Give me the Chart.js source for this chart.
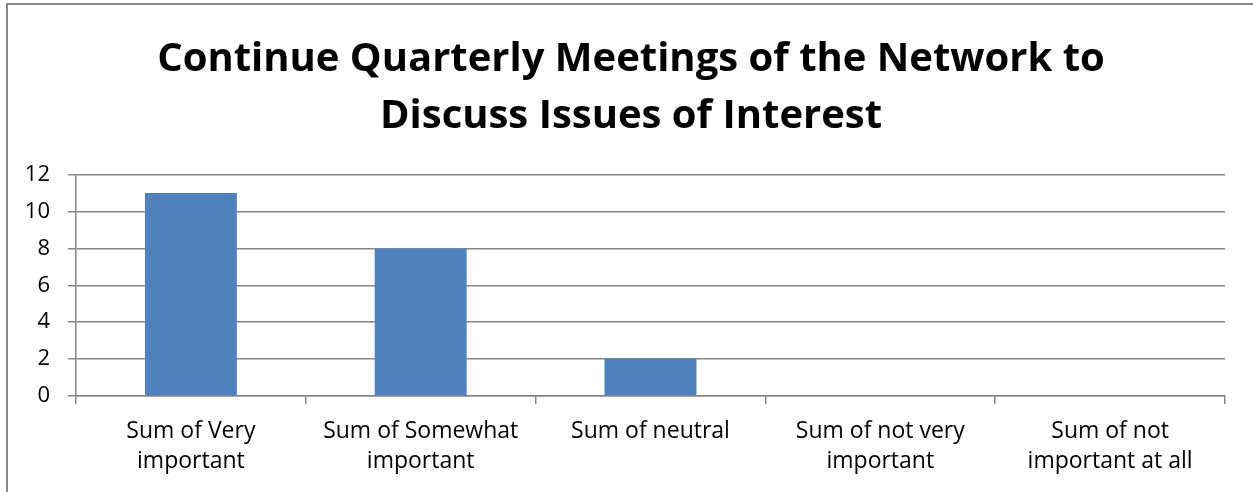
<!DOCTYPE html>
<html>
<head>
<meta charset="utf-8">
<script src="https://cdn.jsdelivr.net/npm/chart.js@4"></script>
<style>
  html, body { margin: 0; padding: 0; background: #fff; }
  #wrap { width: 1253px; height: 492px; }
</style>
</head>
<body>
<div id="wrap"><canvas id="myChart" width="1253" height="492"></canvas></div>
<script>
const titleLines = ["Continue Quarterly Meetings of the Network to", "Discuss Issues of Interest"];
const categories = [
  ["Sum of Very", "important"],
  ["Sum of Somewhat", "important"],
  ["Sum of neutral"],
  ["Sum of not very", "important"],
  ["Sum of not", "important at all"],
];
const counts = [11, 8, 2, 0, 0];

const gray = "#868686";
const font = "'Open Sans', Lato, sans-serif";

// outer frame like the spreadsheet chart border
const framePlugin = {
  id: "frame",
  beforeDraw(chart) {
    const ctx = chart.ctx;
    ctx.save();
    ctx.fillStyle = "#fff";
    ctx.fillRect(0, 0, chart.width, chart.height);
    ctx.strokeStyle = gray;
    ctx.lineWidth = 2;
    ctx.strokeRect(7, 4, 1300, 600);
    ctx.restore();
  },
};

const ctx = document.getElementById("myChart").getContext("2d");
new Chart(ctx, {
  type: "bar",
  data: {
    labels: categories,
    datasets: [
      {
        label: "Count",
        data: counts,
        backgroundColor: "#4F81BD",
        barPercentage: 0.4,
        categoryPercentage: 1,
      },
    ],
  },
  options: {
    responsive: false,
    animation: false,
    layout: { padding: { top: 0, right: 0, bottom: 0, left: 9 } },
    plugins: {
      legend: { display: false },
      tooltip: { enabled: false },
      title: {
        display: true,
        text: titleLines,
        color: "#000",
        font: { family: font, size: 40, weight: "bold", lineHeight: 1.42 },
        padding: { top: 31, bottom: 30 },
      },
    },
    scales: {
      x: {
        grid: {
          offset: true,
          drawOnChartArea: false,
          drawTicks: true,
          tickLength: 8,
          color: gray,
          lineWidth: 1.5,
        },
        border: { color: gray, width: 1.5 },
        ticks: {
          color: "#000",
          padding: 13,
          maxRotation: 0,
          autoSkip: false,
          font: { family: font, size: 23, lineHeight: 1.3 },
        },
        afterFit(scale) {
          scale.height = 96;
        },
      },
      y: {
        min: 0,
        max: 12,
        ticks: {
          stepSize: 2,
          color: "#000",
          padding: 18,
          font: { family: font, size: 22 },
        },
        grid: { color: gray, lineWidth: 1.5, tickLength: 8 },
        border: { color: gray, width: 1.5 },
        afterFit(scale) {
          scale.width = 67;
        },
      },
      // empty right-hand spacer so the plot ends where the original does
      spacer: {
        type: "linear",
        position: "right",
        display: true,
        grid: { display: false },
        ticks: { display: false },
        border: { display: false },
        afterFit(scale) {
          scale.width = 28;
        },
      },
    },
  },
  plugins: [framePlugin],
});
</script>
</body>
</html>
